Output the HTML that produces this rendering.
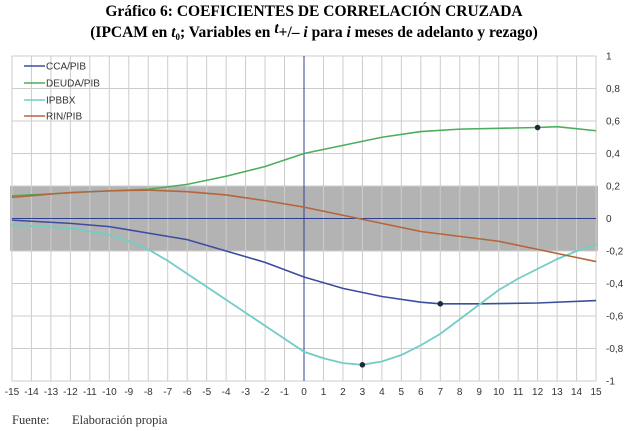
<!DOCTYPE html>
<html><head><meta charset="utf-8"><style>
body{margin:0;background:#fff;width:629px;height:431px;overflow:hidden}
svg{display:block}
</style></head><body>
<svg width="629" height="431" xmlns="http://www.w3.org/2000/svg" font-family="Liberation Sans, sans-serif">
<text x="314" y="16" text-anchor="middle" font-family="Liberation Serif, serif" font-weight="bold" font-size="15.5">Gráfico 6: COEFICIENTES DE CORRELACIÓN CRUZADA</text>
<text x="314" y="37" text-anchor="middle" font-family="Liberation Serif, serif" font-weight="bold" font-size="15.5">(IPCAM en <tspan font-style="italic">t</tspan><tspan font-size="9" dy="3">0</tspan><tspan dy="-3">; Variables en </tspan><tspan font-style="italic" dy="-4">t</tspan><tspan dy="4">+/– </tspan><tspan font-style="italic">i</tspan> para <tspan font-style="italic">i</tspan> meses de adelanto y rezago)</text>
<rect x="10" y="185.9" width="588" height="65" fill="#b3b3b3"/>
<g transform="translate(304,218.5) scale(19.47,-162.5)" fill="none" stroke-width="1.6">
<g stroke="#cccccc" stroke-width="1">
<path vector-effect="non-scaling-stroke" d="M-15 1V-1M-14 1V-1M-13 1V-1M-12 1V-1M-11 1V-1M-10 1V-1M-9 1V-1M-8 1V-1M-7 1V-1M-6 1V-1M-5 1V-1M-4 1V-1M-3 1V-1M-2 1V-1M-1 1V-1M1 1V-1M2 1V-1M3 1V-1M4 1V-1M5 1V-1M6 1V-1M7 1V-1M8 1V-1M9 1V-1M10 1V-1M11 1V-1M12 1V-1M13 1V-1M14 1V-1M15 1V-1M-15 1H15M-15 0.8H15M-15 0.6H15M-15 0.4H15M-15 0.2H15M-15 -0.2H15M-15 -0.4H15M-15 -0.6H15M-15 -0.8H15M-15 -1H15"/>
</g>
<path vector-effect="non-scaling-stroke" stroke="#2f3f8f" stroke-width="1" d="M0 1V-1M-15 0H15"/>
<polyline vector-effect="non-scaling-stroke" stroke="#3a4ea0" points="-15,-0.01 -12,-0.03 -10,-0.05 -8,-0.09 -6,-0.13 -4,-0.2 -2,-0.27 0,-0.36 2,-0.43 4,-0.48 6,-0.515 7,-0.525 9,-0.525 12,-0.52 15,-0.505"/>
<polyline vector-effect="non-scaling-stroke" stroke="#4cae5c" points="-15,0.14 -10,0.17 -8,0.18 -6,0.21 -4,0.26 -2,0.32 0,0.4 2,0.45 4,0.5 6,0.535 8,0.55 10,0.555 12,0.56 13,0.565 15,0.54"/>
<polyline vector-effect="non-scaling-stroke" stroke="#72cdc6" stroke-width="1.8" points="-15,-0.04 -12,-0.06 -10,-0.1 -9,-0.14 -8,-0.19 -7,-0.26 -6,-0.34 -4,-0.5 -2,-0.66 -1,-0.74 0,-0.82 1,-0.86 2,-0.89 3,-0.9 4,-0.88 5,-0.84 6,-0.78 7,-0.71 8,-0.62 9,-0.53 10,-0.44 11,-0.37 12,-0.31 13,-0.25 14,-0.2 15,-0.16"/>
<polyline vector-effect="non-scaling-stroke" stroke="#b5653a" points="-15,0.13 -12,0.16 -10,0.17 -8,0.175 -6,0.165 -4,0.145 -2,0.11 0,0.07 2,0.02 4,-0.03 6,-0.08 8,-0.11 10,-0.14 12,-0.19 14,-0.24 15,-0.265"/>
</g>
<g fill="#1e2a3a">
<circle cx="440.3" cy="303.8" r="2.8"/>
<circle cx="537.6" cy="127.5" r="2.8"/>
<circle cx="362.4" cy="364.8" r="2.8"/>
</g>
<g font-size="10" fill="#333">
<line x1="24" y1="66" x2="45" y2="66" stroke="#3a4ea0" stroke-width="1.6"/><text x="46" y="69.5">CCA/PIB</text>
<line x1="24" y1="83" x2="45" y2="83" stroke="#4cae5c" stroke-width="1.6"/><text x="46" y="86.5">DEUDA/PIB</text>
<line x1="24" y1="100" x2="45" y2="100" stroke="#72cdc6" stroke-width="1.6"/><text x="46" y="103.5">IPBBX</text>
<line x1="24" y1="116" x2="45" y2="116" stroke="#b5653a" stroke-width="1.6"/><text x="46" y="119.5">RIN/PIB</text>
</g>
<g font-size="10" fill="#333">
<text x="606" y="59.5">1</text><text x="606" y="92">0,8</text><text x="606" y="124.5">0,6</text><text x="606" y="157">0,4</text><text x="606" y="189.5">0,2</text><text x="606" y="222">0</text><text x="606" y="254.5">-0,2</text><text x="606" y="287">-0,4</text><text x="606" y="319.5">-0,6</text><text x="606" y="352">-0,8</text><text x="606" y="384.5">-1</text>
</g>
<g font-size="10" fill="#333" text-anchor="middle">
<text x="12" y="395">-15</text><text x="31.5" y="395">-14</text><text x="51" y="395">-13</text><text x="70.4" y="395">-12</text><text x="89.9" y="395">-11</text><text x="109.4" y="395">-10</text><text x="128.8" y="395">-9</text><text x="148.3" y="395">-8</text><text x="167.7" y="395">-7</text><text x="187.2" y="395">-6</text><text x="206.7" y="395">-5</text><text x="226.1" y="395">-4</text><text x="245.6" y="395">-3</text><text x="265.1" y="395">-2</text><text x="284.5" y="395">-1</text><text x="304" y="395">0</text><text x="323.5" y="395">1</text><text x="342.9" y="395">2</text><text x="362.4" y="395">3</text><text x="381.9" y="395">4</text><text x="401.3" y="395">5</text><text x="420.8" y="395">6</text><text x="440.3" y="395">7</text><text x="459.7" y="395">8</text><text x="479.2" y="395">9</text><text x="498.7" y="395">10</text><text x="518.1" y="395">11</text><text x="537.6" y="395">12</text><text x="557.1" y="395">13</text><text x="576.5" y="395">14</text><text x="596" y="395">15</text>
</g>
<text x="12" y="424" font-family="Liberation Serif, serif" font-size="12.5" fill="#333">Fuente:</text>
<text x="72" y="424" font-family="Liberation Serif, serif" font-size="12.5" fill="#333">Elaboración propia</text>
</svg>
</body></html>
